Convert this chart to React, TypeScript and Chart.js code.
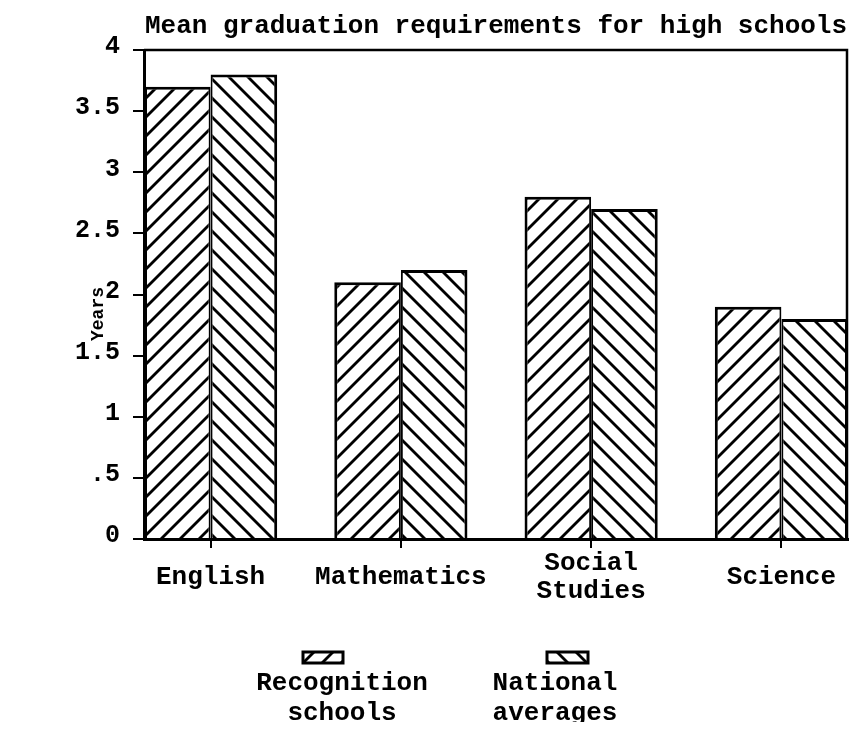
import React, { useEffect, useRef } from "react";
import { Chart, registerables } from "chart.js";

Chart.register(...registerables);

const titleText = "Mean graduation requirements for high schools";
const categories = ["English", "Mathematics", "Social Studies", "Science"];
const recognitionSchools = [3.7, 2.1, 2.8, 1.9];
const nationalAverages = [3.8, 2.2, 2.7, 1.8];
const yTickValues = [0, 0.5, 1, 1.5, 2, 2.5, 3, 3.5, 4];
const yTickLabels = ["0", ".5", "1", "1.5", "2", "2.5", "3", "3.5", "4"];
const seriesNames = [
  ["Recognition", "schools"],
  ["National", "averages"],
];
const yAxisTitle = "Years";

const FONT = "'Liberation Mono', 'Courier New', monospace";

function makeHatch(forward: boolean): CanvasPattern | string {
  const s = 19;
  const c = document.createElement("canvas");
  c.width = s;
  c.height = s;
  const g = c.getContext("2d");
  if (!g) return "#fff";
  g.fillStyle = "#fff";
  g.fillRect(0, 0, s, s);
  g.strokeStyle = "#000";
  g.lineWidth = 2.8;
  g.lineCap = "butt";
  const seg = (x1: number, y1: number, x2: number, y2: number) => {
    g.beginPath();
    g.moveTo(x1, y1);
    g.lineTo(x2, y2);
    g.stroke();
  };
  if (forward) {
    seg(-2, s + 2, s + 2, -2);
    seg(-3, 3, 3, -3);
    seg(s - 3, s + 3, s + 3, s - 3);
  } else {
    seg(-2, -2, s + 2, s + 2);
    seg(s - 3, -3, s + 3, 3);
    seg(-3, s - 3, 3, s + 3);
  }
  const ctx = document.createElement("canvas").getContext("2d");
  const p = ctx ? ctx.createPattern(c, "repeat") : null;
  return p || "#fff";
}

export default function App() {
  const ref = useRef<HTMLCanvasElement | null>(null);

  useEffect(() => {
    if (!ref.current) return;
    const fwd = makeHatch(true);
    const back = makeHatch(false);

    const decor = {
      id: "decor",
      afterDraw(chart: any) {
        const ctx = chart.ctx as CanvasRenderingContext2D;
        const a = chart.chartArea;
        ctx.save();
        ctx.strokeStyle = "#000";
        ctx.lineWidth = 2.5;
        ctx.beginPath();
        ctx.moveTo(a.left, a.top);
        ctx.lineTo(a.right - 1, a.top);
        ctx.lineTo(a.right - 1, a.bottom);
        ctx.stroke();

        // y axis title
        ctx.fillStyle = "#000";
        ctx.font = `bold 18px ${FONT}`;
        ctx.textAlign = "center";
        ctx.textBaseline = "middle";
        ctx.save();
        ctx.translate(90, 306);
        ctx.rotate(-Math.PI / 2);
        ctx.fillText(yAxisTitle, 0, 0);
        ctx.restore();

        // legend
        const items = [
          { pat: fwd, box: [295, 644, 40, 11], cx: 334 },
          { pat: back, box: [539, 644, 41, 11], cx: 547 },
        ];
        items.forEach((it, i) => {
          const [bx, by, bw, bh] = it.box;
          ctx.fillStyle = it.pat as any;
          ctx.fillRect(bx, by, bw, bh);
          ctx.lineWidth = 3;
          ctx.strokeStyle = "#000";
          ctx.strokeRect(bx, by, bw, bh);
          ctx.fillStyle = "#000";
          ctx.font = `bold 26px ${FONT}`;
          ctx.textAlign = "center";
          ctx.textBaseline = "alphabetic";
          seriesNames[i].forEach((line, j) => {
            ctx.fillText(line, it.cx, 682 + j * 30);
          });
        });
        ctx.restore();
      },
    };

    const chart = new Chart(ref.current, {
      type: "bar",
      data: {
        datasets: [
          {
            label: seriesNames[0].join(" "),
            data: recognitionSchools.map((y, i) => ({ x: i, y })),
            backgroundColor: fwd as any,
            borderColor: "#000",
            borderWidth: { left: 3, right: 2, top: 3, bottom: 0 },
            inflateAmount: 0,
            categoryPercentage: 0.7,
            barPercentage: 1,
          },
          {
            label: seriesNames[1].join(" "),
            data: nationalAverages.map((y, i) => ({ x: i, y })),
            backgroundColor: back as any,
            borderColor: "#000",
            borderWidth: { left: 2, right: 3, top: 3, bottom: 0 },
            inflateAmount: 0,
            categoryPercentage: 0.7,
            barPercentage: 1,
          },
        ],
      } as any,
      options: {
        animation: false,
        responsive: true,
        maintainAspectRatio: false,
        layout: { padding: { left: 67, right: 5, top: 0, bottom: 121 } },
        plugins: {
          legend: { display: false },
          tooltip: { enabled: false },
          title: {
            display: true,
            text: titleText,
            fullSize: false,
            color: "#000",
            font: { family: FONT, size: 26, weight: "bold" },
            padding: { top: 2.5, bottom: 8.3 },
          },
        },
        scales: {
          x: {
            type: "linear",
            offset: false,
            min: -0.35,
            max: 3.35,
            afterBuildTicks: (s: any) => {
              s.ticks = categories.map((_, i) => ({ value: i }));
            },
            afterFit: (s: any) => {
              s.height = 70;
            },
            grid: {
              offset: false,
              drawOnChartArea: false,
              drawTicks: true,
              tickLength: 9,
              color: "#000",
              lineWidth: 2,
            },
            border: { display: true, color: "#000", width: 3 },
            ticks: {
              callback: (v: any) => {
                const c = categories[Math.round(Number(v))] || "";
                return c.includes(" ") ? c.split(" ") : c;
              },
              color: "#000",
              font: { family: FONT, size: 26, weight: "bold", lineHeight: 1.1 },
              padding: 15,
              crossAlign: "center",
              maxRotation: 0,
              autoSkip: false,
            },
          },
          y: {
            min: 0,
            max: 4,
            afterBuildTicks: (s: any) => {
              s.ticks = yTickValues.map((v) => ({ value: v }));
            },
            afterFit: (s: any) => {
              s.width = 69;
            },
            grid: {
              drawOnChartArea: false,
              drawTicks: true,
              tickLength: 11,
              color: "#000",
              lineWidth: 2,
            },
            border: { display: true, color: "#000", width: 3 },
            ticks: {
              callback: (v: any) => {
                const idx = yTickValues.indexOf(Number(v));
                return idx >= 0 ? yTickLabels[idx] : "";
              },
              color: "#000",
              font: { family: FONT, size: 25, weight: "bold" },
              padding: 13,
              labelOffset: -3,
            },
          },
        },
      } as any,
      plugins: [decor],
    });
    return () => chart.destroy();
  }, []);

  return (
    <div
      style={{
        position: "relative",
        width: "845px",
        height: "722px",
        marginBottom: "-8px",
      }}
    >
      <canvas ref={ref} />
    </div>
  );
}
